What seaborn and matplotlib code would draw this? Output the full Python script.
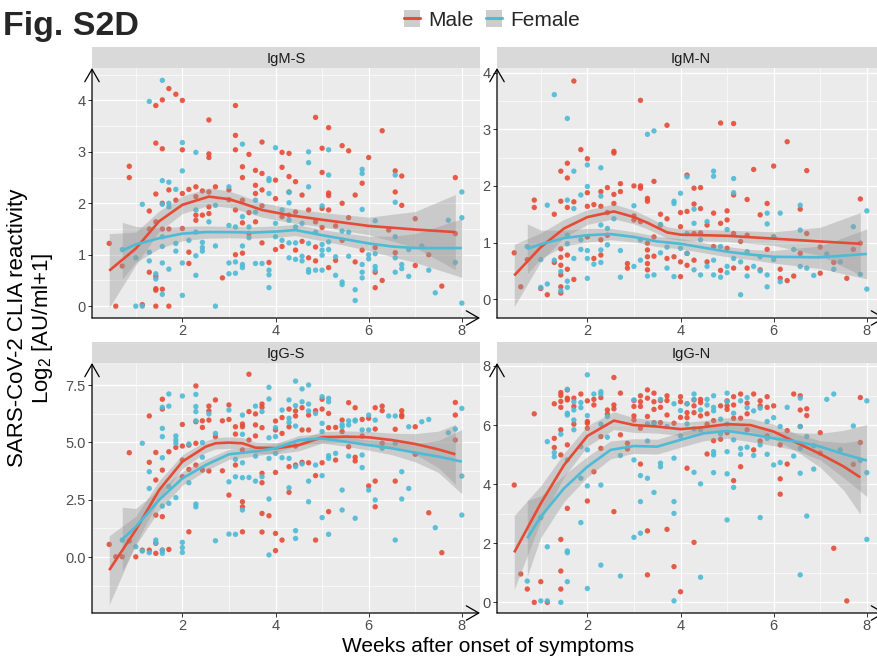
import numpy as np
import pandas as pd
import matplotlib
matplotlib.use("Agg")
import matplotlib.pyplot as plt
import seaborn as sns
from matplotlib.patches import FancyArrowPatch, Patch
from matplotlib.lines import Line2D
from matplotlib.ticker import FixedLocator
from matplotlib import font_manager

# ---------------- data (weeks -> log2 values) ----------------
SEXES = ["Male", "Female"]
PANELS = ["IgM-S", "IgM-N", "IgG-S", "IgG-N"]

IGMS_MALE = {
    0.43: [1.22], 0.57: [0], 0.71: [0.78], 0.86: [2.72, 2.50], 1.14: [0.03], 1.29: [1.85, 1.50, 0.66],
    1.43: [3.90, 3.17, 2.18, 1.64, 0.58, 0.34, 0.31, 0], 1.57: [4.01, 3.06, 2.00, 1.50, 0.33],
    1.71: [4.23, 2.26, 1.50, 0], 1.86: [4.12, 2.06], 2.0: [4.0, 3.04, 2.19, 1.51], 2.14: [2.27, 1.05, 0.83],
    2.29: [2.32, 2.13, 1.77, 1.67], 2.43: [2.24, 1.77], 2.57: [3.62, 2.96, 2.89, 2.22, 1.93, 1.80],
    2.71: [2.32], 2.86: [0.55], 3.0: [2.26, 2.07], 3.14: [3.90, 3.32, 3.04, 1.87, 1.0],
    3.29: [2.71, 2.50, 2.06, 1.62, 1.03], 3.43: [2.95, 1.82, 1.41], 3.57: [2.64, 2.35, 2.19, 1.64],
    3.71: [3.19, 2.58, 2.26, 1.95, 1.23], 3.86: [0.85], 4.0: [2.45, 2.09, 1.10], 4.14: [2.99, 2.70, 1.74, 1.16],
    4.29: [2.97, 2.52, 2.22, 1.77], 4.43: [2.42, 1.83, 1.09], 4.57: [2.16, 1.26], 4.71: [1.87, 0.94],
    4.86: [3.67, 1.64, 1.15, 0.88], 5.0: [3.07, 2.60, 1.90, 1.53], 5.14: [3.47, 2.20, 2.15, 1.87, 0.75],
    5.29: [1.56, 0.89], 5.43: [3.12, 2.00, 1.28], 5.57: [3.02, 1.72], 5.71: [2.16, 0.86], 5.86: [2.39, 1.09],
    6.0: [2.89], 6.14: [1.14, 0.66, 0.36], 6.29: [3.41, 0.50], 6.43: [1.48], 6.57: [2.63, 2.22, 1.04],
    6.71: [2.53, 1.96], 7.0: [1.70, 0.79], 7.29: [1.00], 7.57: [0.39], 7.86: [2.50, 1.41]}

IGMS_FEMALE = {
    0.71: [1.1], 1.0: [0.94, 0], 1.14: [1.98, 0], 1.29: [3.98, 1.05, 0.88], 1.43: [0.63, 0.53],
    1.57: [4.39, 2.44, 1.98, 1.35, 1.16, 0.84, 0.23], 1.71: [2.41, 2.0, 1.93, 0.72], 1.86: [2.27, 1.22, 1.07],
    2.0: [3.18, 2.63, 0.84, 0.21], 2.14: [1.28], 2.29: [2.99, 1.87, 1.44, 0.98, 0.60], 2.43: [1.24, 1.14, 1.07],
    2.57: [1.64], 2.71: [1.96, 1.17, 0], 3.0: [2.32, 1.57, 0.84, 0.63], 3.14: [1.54, 0.86, 0.64],
    3.29: [3.15, 1.74, 1.17, 0.81, 0.75], 3.43: [1.54, 1.33], 3.57: [2.06, 1.83, 0.83], 3.71: [0.83],
    3.86: [2.48, 2.44, 2.19, 0.70, 0.61, 0.36], 4.0: [3.08, 1.61, 1.35], 4.14: [1.87, 1.28],
    4.29: [2.21, 2.01, 1.67, 1.23, 0.94], 4.43: [1.54, 1.23, 0.91], 4.57: [1.61, 0.97, 0.88],
    4.71: [3.0, 2.79, 2.32, 1.22, 0.71, 0.66], 4.86: [1.44, 0.70], 5.0: [1.95, 1.20, 1.09, 0.99, 0.70],
    5.14: [3.04, 2.55, 1.25, 1.10], 5.29: [0.96, 0.60], 5.43: [1.46, 0.47, 0.42], 5.57: [1.44, 0.97],
    5.71: [0.32, 0.11], 5.86: [2.66, 2.58, 1.88, 0.81, 0.66, 0.55], 6.0: [1.0, 0.92],
    6.14: [1.66, 1.02, 0.77, 0.70], 6.57: [2.55, 2.02, 1.35, 0.94, 0.66], 6.71: [0.81, 0.73],
    6.86: [1.10, 0.58], 7.14: [1.17], 7.29: [0.70], 7.43: [0.26], 7.71: [1.67], 7.86: [0.85],
    8.0: [2.22, 1.72, 0.06]}

IGMN_MALE = {
    0.43: [0.82], 0.57: [0.22], 0.71: [0.70], 0.86: [1.75, 1.62], 1.0: [0.19], 1.14: [0.08], 1.29: [1.50, 0.65],
    1.43: [2.26, 1.73, 0.89, 0.74, 0.60, 0.43, 0.22, 0.11], 1.57: [2.40, 2.14, 1.62, 0.78, 0.53],
    1.71: [3.85, 1.72, 0.35], 1.86: [2.64], 2.0: [2.48, 1.88, 1.64, 1.10], 2.14: [1.67, 0.72],
    2.29: [1.90, 1.64, 1.05, 0.78], 2.43: [1.97, 1.53, 1.13], 2.57: [2.61, 2.58, 1.85, 1.69],
    2.71: [2.04, 1.90], 2.86: [0.63, 0.55], 3.0: [2.0, 1.47, 1.40], 3.14: [3.51, 2.0, 1.96, 1.37],
    3.29: [1.78, 1.73, 0.99, 0.87, 0.75, 0.63, 0.52], 3.43: [2.08, 1.10, 0.76], 3.57: [1.50, 1.31],
    3.71: [3.07, 1.42, 0.72], 3.86: [0.75], 4.0: [1.53, 1.28, 0.66, 0.40], 4.14: [2.19, 1.55, 0.81, 0.60],
    4.29: [1.96, 1.68, 1.16, 0.69], 4.43: [1.97, 1.60, 1.17], 4.57: [1.31, 0.66], 4.71: [1.52, 0.93],
    4.86: [3.11, 1.34, 0.51], 5.0: [1.56, 1.40, 0.90], 5.14: [3.10, 1.84, 1.16, 0.55], 5.29: [1.02],
    5.43: [1.76, 1.13, 0.55], 5.57: [2.29], 5.71: [1.49, 0.52], 5.86: [1.69, 0.88], 6.0: [2.35, 1.10],
    6.14: [0.53, 0.37], 6.29: [2.78, 0.33], 6.43: [0.41], 6.57: [1.59, 0.81], 6.71: [2.27, 1.16],
    7.0: [0.92, 0.46], 7.29: [0.65], 7.57: [0.37], 7.71: [0.88], 7.86: [1.77, 0.99]}

IGMN_FEMALE = {
    0.71: [0.93], 1.0: [0.70, 0.21], 1.14: [1.66, 0.27], 1.29: [3.61, 0.69], 1.43: [0.49, 0.15],
    1.57: [3.19, 1.75, 1.13, 0.98, 0.32, 0.21], 1.71: [2.26, 1.60, 0.72], 1.86: [1.84, 1.05, 0.88],
    2.0: [2.37, 1.99, 0.86, 0.72, 0.37], 2.14: [0.62], 2.29: [2.32, 1.82, 1.31, 0.87, 0.65], 2.43: [1.25, 0.96],
    2.57: [1.42], 2.71: [0.86, 0.39], 3.0: [1.65, 0.58], 3.14: [1.05, 0.69], 3.29: [2.91, 0.41],
    3.43: [2.97, 0.43], 3.57: [1.32, 0.82], 3.71: [0.92, 0.55], 3.86: [1.73, 1.69, 0.40], 4.0: [1.87, 0.90],
    4.14: [2.16, 1.16, 0.81], 4.29: [1.59, 1.34, 0.52], 4.43: [1.05, 0.43], 4.57: [1.37, 0.58],
    4.71: [2.26, 2.17, 0.69, 0.43], 4.86: [0.93, 0.39], 5.0: [1.23, 0.58, 0.47], 5.14: [2.13, 1.88, 0.72],
    5.29: [0.66, 0.08], 5.43: [0.84, 0.41], 5.57: [0.58], 5.71: [0.75, 0.50], 5.86: [1.52, 1.33, 0.43, 0.22],
    6.0: [1.10, 0.70], 6.14: [1.52, 0.31], 6.43: [0.88], 6.57: [1.66, 1.22, 0.58], 6.71: [0.55],
    6.86: [0.42], 7.14: [0.80], 7.29: [0.53], 7.43: [0.66], 7.71: [1.28], 7.86: [0.44], 8.0: [1.56, 0.18]}

IGGS_MALE = {
    0.43: [0.55], 0.57: [0.01], 0.71: [0.01], 0.86: [4.55, 0.70], 1.0: [0.01], 1.14: [0.30],
    1.29: [6.15, 4.13, 0.30], 1.43: [4.56, 3.36, 1.83, 0.60, 0.16], 1.57: [6.88, 6.45, 3.79, 1.76, 0.30],
    1.71: [4.59, 0.33], 1.86: [4.78], 2.0: [5.78, 4.84, 4.23, 3.50], 2.14: [4.88, 3.82, 1.10],
    2.29: [7.46, 5.90, 4.96, 4.01], 2.43: [5.94, 5.65, 3.79], 2.57: [6.58, 6.37, 5.97, 3.75],
    2.71: [6.85, 5.25], 2.86: [5.94, 3.76], 3.0: [6.63, 6.0, 2.70], 3.14: [5.68, 5.36, 4.01],
    3.29: [5.80, 5.68, 4.67, 2.41, 2.19, 1.10], 3.43: [7.97, 6.34, 5.10], 3.57: [6.24, 5.76, 5.28],
    3.71: [6.67, 6.53, 5.64, 3.65, 3.24, 1.90, 1.09], 3.86: [1.80], 4.0: [5.93, 5.54, 3.69, 1.03, 0.28],
    4.14: [6.08, 5.39, 0.74], 4.29: [6.45, 5.68, 3.94, 2.82], 4.43: [6.37, 6.15, 4.84, 4.01],
    4.57: [6.51, 5.54, 4.13], 4.71: [6.19, 5.54, 4.11], 4.86: [6.38, 3.55, 0.74], 5.0: [6.88, 6.45, 4.11],
    5.14: [6.26, 5.64, 1.98], 5.29: [5.65, 4.23], 5.43: [5.97, 5.47], 5.57: [6.73, 4.81],
    5.71: [6.51, 4.35, 4.19], 5.86: [6.0, 5.28], 6.0: [6.05, 3.10], 6.14: [6.51, 5.58, 3.31, 2.19],
    6.29: [6.58, 6.38, 4.96], 6.57: [5.57, 3.31], 6.71: [6.38, 6.19, 6.12], 7.0: [5.68, 4.48], 7.29: [1.93],
    7.57: [0.19], 7.86: [6.74, 6.19, 5.10]}

IGGS_FEMALE = {
    0.71: [0.74], 1.0: [0.45], 1.14: [4.96, 0.26], 1.29: [3.72, 2.99, 0.19], 1.43: [0.74, 0.62],
    1.57: [6.53, 5.61, 5.25, 4.33, 2.22, 0.30, 0.16], 1.71: [7.11, 6.58, 3.07, 2.34],
    1.86: [5.28, 5.10, 4.96, 2.59], 2.0: [7.02, 0.64, 0.41, 0.20], 2.14: [4.93, 3.24],
    2.29: [7.09, 6.56, 6.34, 5.94, 2.31, 2.19], 2.43: [4.99, 4.35], 2.57: [6.24], 2.71: [5.39, 0.71],
    3.0: [6.41, 3.28, 1.0], 3.14: [4.26, 3.50, 0.99], 3.29: [6.19, 5.35, 4.11, 3.46, 2.05], 3.43: [3.47],
    3.57: [6.58, 4.40, 3.31], 3.71: [6.34, 3.50], 3.86: [7.40, 6.89, 5.20, 4.30, 2.53, 0.09],
    4.0: [5.64, 5.25, 4.52], 4.14: [6.41, 4.33], 4.29: [6.85, 6.05, 5.87, 4.30, 3.02],
    4.43: [7.67, 6.60, 5.71, 3.94, 1.15, 0.81], 4.57: [7.33, 6.77, 4.06], 4.71: [7.50, 6.67, 6.37, 3.31, 2.41],
    4.86: [6.26, 4.01], 5.0: [6.99, 5.83, 5.47, 3.55, 1.72], 5.14: [6.92, 6.77, 4.42, 4.30, 0.99],
    5.29: [4.52], 5.43: [5.78, 5.68, 2.92, 2.05], 5.57: [5.94, 5.76, 4.40], 5.71: [5.97, 5.93, 1.69],
    5.86: [5.54, 4.45, 3.90], 6.0: [6.19, 5.54, 2.92], 6.14: [5.97, 2.49], 6.29: [4.74], 6.43: [6.15],
    6.57: [6.15, 4.96, 0.74], 6.71: [3.72, 2.53], 6.86: [5.68, 2.99], 7.14: [5.90], 7.29: [6.0],
    7.43: [1.28], 7.71: [5.42], 7.86: [5.58], 8.0: [6.48, 3.53, 1.83]}

IGGN_MALE = {
    0.43: [3.97], 0.57: [0.96], 0.71: [0.45], 0.86: [6.38, 0], 1.0: [0.70], 1.14: [0], 1.29: [6.72, 5.55, 5.24],
    1.43: [7.10, 7.00, 6.80, 6.60, 5.84, 4.99, 2.13, 1.06, 0.45], 1.57: [7.19, 6.91, 6.85, 5.33, 3.18],
    1.71: [6.91, 6.63, 6.03], 1.86: [7.05], 2.0: [6.82, 6.12, 6.06, 5.89, 3.43], 2.14: [6.87, 6.68, 4.42],
    2.29: [6.93, 5.61, 5.21], 2.43: [6.51, 6.37], 2.57: [7.61, 6.68, 6.55, 3.07], 2.71: [7.08, 5.67],
    2.86: [5.38, 5.19], 3.0: [6.83, 6.63, 6.31, 6.17], 3.14: [6.99, 6.79, 6.63, 5.89, 4.68],
    3.29: [7.19, 6.91, 6.29, 2.42, 0.93], 3.43: [7.08, 6.79, 6.53, 6.08], 3.57: [6.83, 6.60, 6.08],
    3.71: [6.99, 6.83, 6.34, 2.47], 3.86: [6.06, 1.21], 4.0: [6.96, 6.79, 6.26, 0.36],
    4.14: [6.72, 6.42, 6.25, 4.54], 4.29: [6.85, 6.65, 6.42, 2.03], 4.43: [6.87, 6.76, 6.31],
    4.57: [6.38, 6.03, 5.02], 4.71: [6.15, 5.47], 4.86: [6.65, 5.52], 5.0: [6.82, 6.65, 6.53, 5.74],
    5.14: [6.96, 6.68, 6.23, 4.12], 5.29: [7.05, 6.23, 4.59], 5.43: [6.74, 6.38, 5.84], 5.57: [7.05, 5.16],
    5.71: [6.82, 6.65, 5.46], 5.86: [6.96, 6.60, 5.63], 6.0: [6.65], 6.14: [5.33, 4.18, 3.66],
    6.29: [5.81, 4.68], 6.43: [7.05], 6.57: [6.99, 6.51, 5.95], 6.71: [6.55, 6.32], 7.0: [5.74, 5.05],
    7.29: [1.83], 7.57: [0.05], 7.71: [4.67], 7.86: [6.93, 5.41]}

IGGN_FEMALE = {
    0.71: [0.72], 1.0: [2.87, 0.05], 1.14: [5.44, 1.88, 0.05], 1.29: [5.07, 4.93], 1.43: [5.69, 0],
    1.57: [7.21, 6.40, 6.34, 4.82, 1.74, 1.68, 0.70], 1.71: [6.79, 6.51, 6.17, 5.84],
    1.86: [6.76, 6.59, 5.27, 4.20, 2.70], 2.0: [7.70, 6.32, 5.16, 3.94, 0.47], 2.14: [7.05],
    2.29: [7.13, 7.05, 6.03, 3.97, 1.26], 2.43: [6.29, 5.59], 2.71: [4.97, 0.89], 3.0: [6.85, 4.82, 2.20],
    3.14: [4.29, 3.41, 2.34], 3.29: [6.04, 5.46, 4.20], 3.43: [6.04, 3.72], 3.57: [6.87, 4.71, 4.59],
    3.71: [5.95], 3.86: [6.72, 4.88, 3.41, 3.01, 0.05], 4.0: [6.49, 5.63], 4.14: [6.72, 6.04],
    4.29: [7.05, 6.87, 5.87, 4.40], 4.43: [6.51, 5.84, 4.01, 0.85], 4.57: [6.87, 6.68],
    4.71: [6.99, 6.60, 6.48, 5.10, 4.99, 4.39], 4.86: [6.20, 5.70], 5.0: [7.08, 6.79, 6.03, 5.10, 4.35, 2.79],
    5.14: [6.40, 5.50, 3.89], 5.29: [6.82, 5.21, 5.01], 5.43: [6.93, 6.59, 5.25], 5.57: [6.48, 4.97],
    5.71: [6.57, 5.33, 2.87], 5.86: [6.12, 5.55, 5.01], 6.0: [6.25, 4.65], 6.14: [5.95, 4.73], 6.29: [6.60],
    6.43: [4.95], 6.57: [6.91, 5.95, 5.21, 4.37, 0.93], 6.71: [5.61, 2.92], 6.86: [5.30, 4.51], 7.14: [6.87],
    7.29: [7.05], 7.43: [5.16], 7.71: [5.97], 7.86: [4.80], 8.0: [6.82, 4.39, 2.13]}

# smoothed fits (loess): x, fit, CI half-width
IGMS_M_FIT_X = [0.43, 1.0, 1.5, 2.0, 2.57, 3.0, 3.29, 3.71, 4.29, 5.0, 6.0, 7.0, 7.86]
IGMS_M_FIT_Y = [0.69, 1.12, 1.65, 1.97, 2.13, 2.08, 2.0, 1.87, 1.77, 1.68, 1.56, 1.49, 1.44]
IGMS_M_FIT_SE = [0.72, 0.32, 0.2, 0.17, 0.17, 0.16, 0.15, 0.14, 0.14, 0.14, 0.17, 0.35, 0.73]
IGMS_F_FIT_X = [0.71, 1.0, 1.5, 2.0, 2.5, 3.0, 3.5, 4.0, 4.43, 5.0, 5.5, 6.0, 6.5, 7.0, 8.0]
IGMS_F_FIT_Y = [1.08, 1.2, 1.32, 1.41, 1.44, 1.44, 1.43, 1.45, 1.48, 1.38, 1.3, 1.22, 1.16, 1.13, 1.13]
IGMS_F_FIT_SE = [0.55, 0.35, 0.2, 0.14, 0.12, 0.11, 0.11, 0.11, 0.11, 0.11, 0.12, 0.14, 0.2, 0.28, 0.57]

IGMN_M_FIT_X = [0.43, 1.0, 1.5, 2.0, 2.57, 3.0, 3.29, 3.71, 4.0, 5.0, 6.0, 7.0, 7.86]
IGMN_M_FIT_Y = [0.42, 0.92, 1.25, 1.45, 1.55, 1.45, 1.35, 1.18, 1.14, 1.12, 1.07, 1.02, 0.98]
IGMN_M_FIT_SE = [0.55, 0.25, 0.16, 0.13, 0.13, 0.12, 0.11, 0.1, 0.1, 0.1, 0.12, 0.25, 0.55]
IGMN_F_FIT_X = [0.71, 1.0, 1.5, 2.0, 2.5, 3.0, 3.5, 4.0, 4.5, 5.0, 5.5, 6.0, 7.0, 8.0]
IGMN_F_FIT_Y = [0.89, 0.97, 1.08, 1.13, 1.15, 1.1, 1.02, 0.98, 0.91, 0.84, 0.79, 0.75, 0.74, 0.8]
IGMN_F_FIT_SE = [0.44, 0.25, 0.14, 0.12, 0.1, 0.09, 0.09, 0.09, 0.09, 0.09, 0.09, 0.11, 0.2, 0.44]

IGGS_M_FIT_X = [0.43, 1.0, 1.5, 2.0, 2.5, 2.71, 3.0, 3.29, 3.57, 4.0, 4.5, 5.0, 5.5, 6.0, 6.5, 7.0, 7.5, 7.86]
IGGS_M_FIT_Y = [-0.57, 1.18, 2.92, 4.16, 4.81, 4.96, 4.99, 4.96, 4.77, 4.74, 4.88, 5.22, 5.25, 5.22, 5.1, 4.93, 4.69, 4.48]
IGGS_M_FIT_SE = [1.5, 0.6, 0.4, 0.3, 0.25, 0.25, 0.25, 0.25, 0.25, 0.25, 0.25, 0.25, 0.25, 0.25, 0.3, 0.45, 0.8, 1.3]
IGGS_F_FIT_X = [0.71, 1.0, 1.5, 2.0, 2.5, 3.0, 3.5, 4.0, 4.5, 5.0, 5.5, 6.0, 6.5, 7.0, 7.5, 8.0]
IGGS_F_FIT_Y = [0.77, 1.32, 2.49, 3.43, 4.01, 4.48, 4.59, 4.74, 5.1, 5.17, 5.03, 4.88, 4.74, 4.55, 4.38, 4.16]
IGGS_F_FIT_SE = [1.4, 0.8, 0.45, 0.3, 0.25, 0.22, 0.2, 0.2, 0.2, 0.2, 0.2, 0.22, 0.28, 0.4, 0.7, 1.4]

IGGN_M_FIT_X = [0.43, 1.0, 1.5, 2.0, 2.57, 3.0, 3.5, 4.0, 4.5, 5.0, 5.5, 6.0, 6.5, 7.0, 7.5, 7.86]
IGGN_M_FIT_Y = [1.69, 3.35, 4.65, 5.63, 6.15, 6.0, 5.95, 5.86, 5.93, 6.03, 6.0, 5.78, 5.4, 5.02, 4.6, 4.23]
IGGN_M_FIT_SE = [1.25, 0.6, 0.4, 0.35, 0.3, 0.25, 0.22, 0.22, 0.22, 0.22, 0.22, 0.25, 0.3, 0.45, 0.8, 1.25]
IGGN_F_FIT_X = [0.71, 1.0, 1.5, 2.0, 2.5, 3.0, 3.5, 4.0, 4.5, 5.0, 5.5, 6.0, 6.5, 7.0, 7.5, 8.0]
IGGN_F_FIT_Y = [2.17, 2.9, 3.86, 4.59, 5.16, 5.29, 5.27, 5.5, 5.72, 5.8, 5.69, 5.55, 5.44, 5.27, 5.02, 4.8]
IGGN_F_FIT_SE = [1.28, 0.7, 0.45, 0.35, 0.3, 0.25, 0.25, 0.25, 0.25, 0.25, 0.25, 0.25, 0.3, 0.45, 0.8, 1.22]

Y_TICKS = {"IgM-S": [0, 1, 2, 3, 4], "IgM-N": [0, 1, 2, 3, 4],
           "IgG-S": [0, 2.5, 5, 7.5], "IgG-N": [0, 2, 4, 6, 8]}
Y_TICK_LABELS = {"IgM-S": ["0", "1", "2", "3", "4"], "IgM-N": ["0", "1", "2", "3", "4"],
                 "IgG-S": ["0.0", "2.5", "5.0", "7.5"], "IgG-N": ["0", "2", "4", "6", "8"]}
X_TICKS = [2, 4, 6, 8]

# ---------------- assemble ----------------
points = {"IgM-S": (IGMS_MALE, IGMS_FEMALE), "IgM-N": (IGMN_MALE, IGMN_FEMALE),
          "IgG-S": (IGGS_MALE, IGGS_FEMALE), "IgG-N": (IGGN_MALE, IGGN_FEMALE)}
fits = {"IgM-S": ((IGMS_M_FIT_X, IGMS_M_FIT_Y, IGMS_M_FIT_SE), (IGMS_F_FIT_X, IGMS_F_FIT_Y, IGMS_F_FIT_SE)),
        "IgM-N": ((IGMN_M_FIT_X, IGMN_M_FIT_Y, IGMN_M_FIT_SE), (IGMN_F_FIT_X, IGMN_F_FIT_Y, IGMN_F_FIT_SE)),
        "IgG-S": ((IGGS_M_FIT_X, IGGS_M_FIT_Y, IGGS_M_FIT_SE), (IGGS_F_FIT_X, IGGS_F_FIT_Y, IGGS_F_FIT_SE)),
        "IgG-N": ((IGGN_M_FIT_X, IGGN_M_FIT_Y, IGGN_M_FIT_SE), (IGGN_F_FIT_X, IGGN_F_FIT_Y, IGGN_F_FIT_SE))}

rows = []
for p in PANELS:
    for sex, d in zip(SEXES, points[p]):
        for wk, vals in d.items():
            for v in vals:
                rows.append((p, sex, wk, v))
df = pd.DataFrame(rows, columns=["antibody", "sex", "week", "value"])

# ---------------- style ----------------
sns.set_style("darkgrid")
available = {f.name for f in font_manager.fontManager.ttflist}
plt.rcParams["font.family"] = ["Liberation Sans", "DejaVu Sans"]
plt.rcParams["mathtext.fontset"] = "custom"
plt.rcParams["mathtext.rm"] = "Liberation Sans"
plt.rcParams["mathtext.it"] = "Liberation Sans:italic"

PALETTE = {"Male": "#E64B35", "Female": "#4DBBD5"}
BAND = "#999999"

W, H = 878, 659
fig = plt.figure(figsize=(W / 100, H / 100), dpi=100)
fig.patch.set_facecolor("white")

BOX = {"IgM-S": (92, 68, 480, 318), "IgM-N": (497, 68, 885, 318),
       "IgG-S": (92, 363, 480, 613), "IgG-N": (497, 363, 885, 613)}
STRIP_H = 21
XLIM = (0.06, 8.39)
YLIM = {"IgM-S": (-0.23, 4.63), "IgM-N": (-0.33, 4.08), "IgG-S": (-2.44, 8.46), "IgG-N": (-0.36, 8.10)}


def add_arrow(ax, start, end):
    a = FancyArrowPatch(start, end, transform=ax.transAxes,
                        arrowstyle="->,head_length=0.45,head_width=0.26",
                        mutation_scale=20, lw=0.9, color="black",
                        clip_on=False, shrinkA=0, shrinkB=0, zorder=10)
    ax.add_artist(a)


for p in PANELS:
    x0, y0, x1, y1 = BOX[p]
    ax = fig.add_axes([x0 / W, 1 - y1 / H, (x1 - x0) / W, (y1 - y0) / H])
    ax.set_facecolor("#EBEBEB")
    sub = df[df["antibody"] == p]
    sns.scatterplot(data=sub, x="week", y="value", hue="sex", palette=PALETTE,
                    hue_order=SEXES, s=15, linewidth=0, alpha=0.9, ax=ax,
                    legend=False, zorder=2)
    for sex, (fx, fy, fse) in zip(SEXES, fits[p]):
        fx = np.asarray(fx); fy = np.asarray(fy); fse = np.asarray(fse)
        ax.fill_between(fx, fy - fse, fy + fse, color=BAND, alpha=0.4, lw=0, zorder=3)
        ax.plot(fx, fy, color=PALETTE[sex], lw=1.9, zorder=4, solid_capstyle="butt",
                solid_joinstyle="round")
    ax.set_xlim(*XLIM)
    ax.set_ylim(*YLIM[p])
    ax.xaxis.set_major_locator(FixedLocator(X_TICKS))
    ax.xaxis.set_minor_locator(FixedLocator([1, 3, 5, 7]))
    yt = Y_TICKS[p]
    ax.yaxis.set_major_locator(FixedLocator(yt))
    step = yt[1] - yt[0]
    ax.yaxis.set_minor_locator(FixedLocator([t - step / 2 for t in yt] + [yt[-1] + step / 2]))
    ax.set_yticklabels(Y_TICK_LABELS[p])
    ax.set_xticklabels([str(t) for t in X_TICKS])
    ax.grid(which="major", color="white", lw=0.9)
    ax.grid(which="minor", color="white", lw=0.45)
    ax.set_axisbelow(True)
    for s in ax.spines.values():
        s.set_visible(False)
    ax.tick_params(axis="both", which="major", length=2.6, width=0.7, color="#333333",
                   labelsize=10.5, labelcolor="#4D4D4D", pad=2, left=True, bottom=True)
    ax.tick_params(axis="both", which="minor", length=0)
    ax.set_xlabel("")
    ax.set_ylabel("")
    add_arrow(ax, (0, 0), (0, 1))
    add_arrow(ax, (0, 0), (1, 0))
    # strip
    sax = fig.add_axes([x0 / W, 1 - y0 / H, (x1 - x0) / W, STRIP_H / H])
    sax.set_facecolor("#D9D9D9")
    sax.set_xticks([]); sax.set_yticks([])
    sax.grid(False)
    for s in sax.spines.values():
        s.set_visible(False)
    sax.text(0.5, 0.45, p, ha="center", va="center", fontsize=10.5, color="#1A1A1A",
             transform=sax.transAxes)

# axis titles
fig.text(488 / W, 1 - 647 / H, "Weeks after onset of symptoms", ha="center", va="center",
         fontsize=15, color="black")
fig.text(31 / W, 1 - 328 / H, "SARS-CoV-2 CLIA reactivity\nLog$_2$ [AU/ml+1]", ha="center", va="center",
         rotation=90, fontsize=16, color="black", linespacing=1.1, multialignment="center")

# title
if "Liberation Sans Narrow" in available:
    fig.text(0.003, 1 - 35 / H, "Fig. S2D", ha="left", va="baseline", fontsize=28,
             fontweight="bold", family=["Liberation Sans Narrow", "Liberation Sans"])
else:
    fig.text(0.003, 1 - 35 / H, "Fig. S2D", ha="left", va="baseline", fontsize=24.5,
             fontweight="bold")

# legend
handles = [(Patch(facecolor="#CDCDCD", edgecolor="none"),
            Line2D([], [], color=PALETTE[s], lw=2.2)) for s in SEXES]
fig.legend(handles, SEXES, loc="center", bbox_to_anchor=(492 / W, 1 - 20 / H), ncol=2,
           frameon=False, fontsize=15, handlelength=0.75, handleheight=0.9,
           handletextpad=0.4, columnspacing=0.6, borderpad=0)

fig.savefig("out.png", dpi=100, facecolor="white")
